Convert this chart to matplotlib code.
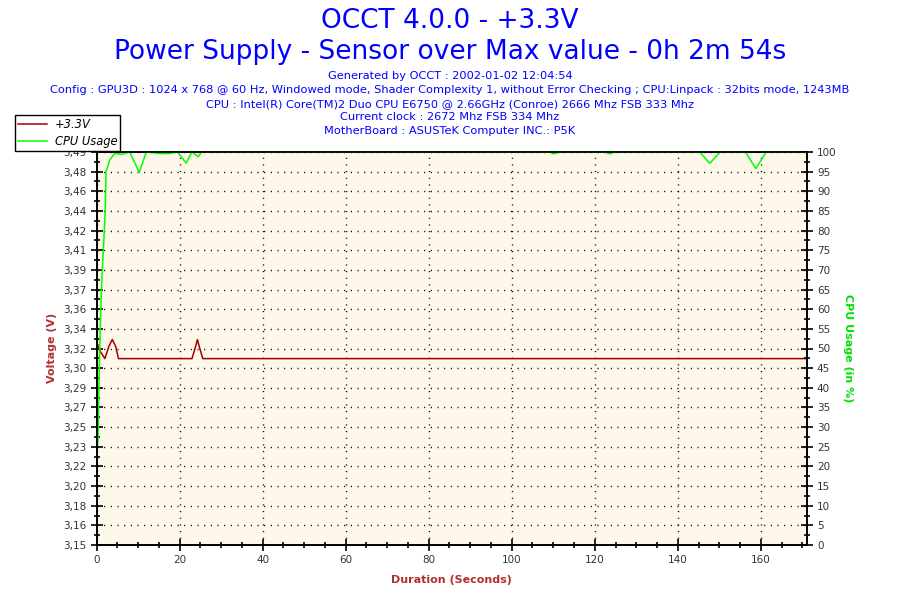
import matplotlib
matplotlib.use('Agg')
import matplotlib.pyplot as plt
from matplotlib.ticker import FixedLocator, MultipleLocator

# data
volt_t = [0, 1, 2, 3, 3.8, 4.6, 5.3, 23.0, 23.8, 24.3, 24.8, 25.6, 171]
volt_v = [3.331, 3.322, 3.316, 3.327, 3.333, 3.327, 3.316, 3.316, 3.326, 3.333, 3.326, 3.316, 3.316]

cpu_t = [0.35, 0.5, 0.7, 0.95, 1.3, 1.7, 2.1, 2.3, 3.2, 4.4, 6, 8, 10.3, 12.0, 15.5, 17.5,
         19.5, 21.6, 23.0, 24.5, 25.3, 109.3, 109.8, 110.6, 111.1, 122.7, 123.2,
         124.0, 124.5, 145.3, 147.7, 150.2, 156.3, 158.8, 161.3, 171]
cpu_v = [26, 36, 46, 57, 68, 76, 85, 95, 98, 99.7, 99.4, 100, 94.8, 100, 99.6, 99.6,
         100, 97.2, 100, 98.8, 100, 100, 99.6, 99.6, 100, 100, 99.6,
         99.6, 100, 100, 97.1, 100, 100, 95.8, 100, 100]

volt_labels = ['3,15', '3,16', '3,18', '3,20', '3,22', '3,23', '3,25', '3,27', '3,29', '3,30',
               '3,32', '3,34', '3,36', '3,37', '3,39', '3,41', '3,42', '3,44', '3,46', '3,48', '3,49']
cpu_ticks = list(range(0, 101, 5))

title1 = 'OCCT 4.0.0 - +3.3V'
title2 = 'Power Supply - Sensor over Max value - 0h 2m 54s'
info = ['Generated by OCCT : 2002-01-02 12:04:54',
        'Config : GPU3D : 1024 x 768 @ 60 Hz, Windowed mode, Shader Complexity 1, without Error Checking ; CPU:Linpack : 32bits mode, 1243MB',
        'CPU : Intel(R) Core(TM)2 Duo CPU E6750 @ 2.66GHz (Conroe) 2666 Mhz FSB 333 Mhz',
        'Current clock : 2672 Mhz FSB 334 Mhz',
        'MotherBoard : ASUSTeK Computer INC.: P5K']

vmin, vmax = 3.15, 3.50
xmax = 171

fig = plt.figure(figsize=(9, 6), dpi=100)
ax = fig.add_axes([96.5/900, 55/600, 710/900, 393/600])
ax.set_facecolor('#fdf8ea')
ax2 = ax.twinx()

ax.plot(volt_t, volt_v, color='#a00000', lw=1.1, label='+3.3V')
ax2.plot(cpu_t, cpu_v, color='#00ff00', lw=1.1, label='CPU Usage')

ax.set_xlim(0, xmax)
ax.set_ylim(vmin, vmax)
ax2.set_ylim(0, 100)

step = (vmax - vmin) / 20
vt = [vmin + i * step for i in range(21)]
ax.yaxis.set_major_locator(FixedLocator(vt))
ax.set_yticklabels(volt_labels)
ax.yaxis.set_minor_locator(FixedLocator([v + step / 2 for v in vt[:-1]]))
ax2.yaxis.set_major_locator(FixedLocator(cpu_ticks))
ax2.yaxis.set_minor_locator(MultipleLocator(2.5))
ax.xaxis.set_major_locator(MultipleLocator(20))
ax.xaxis.set_minor_locator(MultipleLocator(5))

for a in (ax, ax2):
    a.tick_params(which='major', direction='inout', length=9, width=1.2, labelsize=7.5,
                  labelcolor='#333333', pad=3)
    a.tick_params(which='minor', direction='inout', length=5, width=1.2)
    for s in a.spines.values():
        s.set_linewidth(1.2)

ax.grid(True, which='major', color='black', linestyle=(0, (0.8, 4)), lw=1.0)
ax.set_axisbelow(True)

fig.text(0.5, 1 - 21/600, title1, ha='center', va='center', color='#0000ff', fontsize=19)
fig.text(0.5, 1 - 52/600, title2, ha='center', va='center', color='#0000ff', fontsize=19)
for i, line in enumerate(info):
    fig.text(0.5, 1 - (76 + i * 13.8)/600, line, ha='center', va='center', color='#0000ff', fontsize=8.2)

fig.text(52/900, 1 - 348/600, 'Voltage (V)', rotation=90, ha='center', va='center',
         color='#b03030', fontsize=8, fontweight='bold')
fig.text(848/900, 1 - 348/600, 'CPU Usage (in %)', rotation=270, ha='center', va='center',
         color='#00e000', fontsize=8, fontweight='bold')
fig.text(451/900, 1 - 580/600, 'Duration (Seconds)', ha='center', va='center',
         color='#b03030', fontsize=8, fontweight='bold')

h1, l1 = ax.get_legend_handles_labels()
h2, l2 = ax2.get_legend_handles_labels()
leg = fig.legend(h1 + h2, l1 + l2, loc='upper left', bbox_to_anchor=(15/900, 1 - 115/600),
                 fancybox=False, framealpha=1, edgecolor='black', borderaxespad=0,
                 prop={'style': 'italic', 'size': 8.3}, handlelength=2.5, borderpad=0.25,
                 labelspacing=0.4, handletextpad=0.7)
leg.get_frame().set_linewidth(1.0)

fig.savefig('out.png', dpi=100)
